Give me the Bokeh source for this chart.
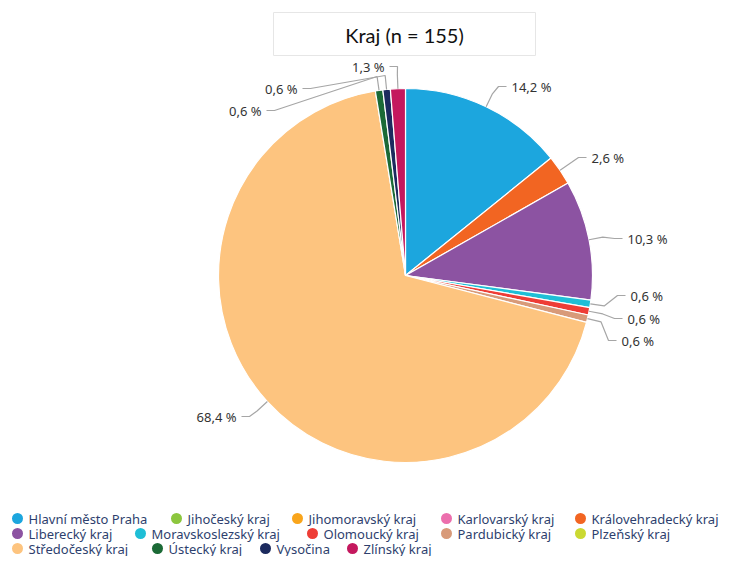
import math
from bokeh.plotting import figure
from bokeh.models import Range1d, ColumnDataSource
from bokeh.core.properties import value
from bokeh.embed import file_html
from bokeh.resources import INLINE

# ---- data ----
regions = ["Hlavní město Praha", "Jihočeský kraj", "Jihomoravský kraj", "Karlovarský kraj",
           "Královehradecký kraj", "Liberecký kraj", "Moravskoslezský kraj", "Olomoucký kraj",
           "Pardubický kraj", "Plzeňský kraj", "Středočeský kraj", "Ústecký kraj",
           "Vysočina", "Zlínský kraj"]
counts = [22, 0, 0, 0, 4, 16, 1, 1, 1, 0, 106, 1, 1, 2]
colors = ["#1ca6de", "#8cc63e", "#f9a51b", "#ec6fad", "#f26522", "#8c53a2", "#1fbed6",
          "#ee3d36", "#d89a79", "#cbd932", "#fdc47f", "#1b6a36", "#1c2a5e", "#c4185e"]
title_text = "Kraj (n = 155)"

# ---- layout (screen pixels) ----
W, H = 723, 556
def X(sx): return sx
def Y(sy): return H - sy

cx, cy, R = 405, 275, 187

p = figure(width=W, height=H, output_backend="svg", toolbar_location=None,
           x_range=Range1d(0, W), y_range=Range1d(0, H), min_border=0,
           x_axis_location=None, y_axis_location=None)
p.grid.visible = False
p.outline_line_color = None
p.background_fill_color = "white"

total = sum(counts)
starts, ends, cols, mids, pct = [], [], [], [], []
cum = 0
for c, col in zip(counts, colors):
    if c == 0:
        continue
    f0 = cum / total
    f1 = (cum + c) / total
    cum += c
    starts.append(math.pi / 2 - f1 * 2 * math.pi)
    ends.append(math.pi / 2 - f0 * 2 * math.pi)
    cols.append(col)
    mids.append((f0 + f1) / 2)
    pct.append(c / total * 100)

src = ColumnDataSource(dict(x=[X(cx)] * len(cols), y=[Y(cy)] * len(cols),
                            s=starts, e=ends, c=cols))
p.wedge(x="x", y="y", radius=R, start_angle="s", end_angle="e", direction="anticlock",
        fill_color="c", line_color="white", line_width=1.2, source=src)

# label anchors (screen px): (x, y, align)
anchors = [(511, 86, "left"), (591, 157, "left"), (627, 238, "left"),
           (630, 295, "left"), (627, 318, "left"), (621, 340, "left"),
           (236, 416, "right"), (261, 110, "right"), (297, 88, "right"), (384, 66, "right")]

lx, ly, lt, la = [], [], [], []
xs_lines, ys_lines = [], []
for m, pc, (ax, ay, al) in zip(mids, pct, anchors):
    ang = m * 2 * math.pi
    ex, ey = cx + R * math.sin(ang), cy - R * math.cos(ang)
    kx, ky = cx + (R + 14) * math.sin(ang), cy - (R + 14) * math.cos(ang)
    endx = ax - 5 if al == "left" else ax + 5
    midx = endx - 8 if al == "left" else endx + 8
    xs_lines.append([X(ex), X(kx), X(midx), X(endx)])
    ys_lines.append([Y(ey), Y(ky), Y(ay), Y(ay)])
    txt = ("%.1f" % pc).replace(".", ",") + " %"
    lx.append(X(ax)); ly.append(Y(ay)); lt.append(txt); la.append(al)

p.multi_line(xs=xs_lines, ys=ys_lines, line_color="#a6a6a6", line_width=1.2)
p.text(x=lx, y=ly, text=lt, text_align=la, text_baseline="middle",
       text_font=value("Noto Sans"), text_font_size="13px", text_color="#333333")

# title box
p.quad(left=X(273), right=X(535), top=Y(12), bottom=Y(55), fill_color="white",
       line_color="#e6e6e6", line_width=1)
p.text(x=[X(404)], y=[Y(34)], text=[title_text], text_align="center", text_baseline="middle",
       text_font=value("Lato"), text_font_size="20px", text_color="#111111")

# legend (flow layout positions, compressed to fit the frame)
leg_pos = [(17, 518), (176, 518), (297, 518), (446, 518), (580, 518),
           (17, 533), (140, 533), (312, 533), (446, 533), (580, 533),
           (17, 548), (157, 548), (265, 548), (352, 548)]
p.scatter(x=[X(a) for a, b in leg_pos], y=[Y(b) for a, b in leg_pos], size=11,
          marker="circle", fill_color=colors, line_color=None)
p.text(x=[X(a + 11) for a, b in leg_pos], y=[Y(b) for a, b in leg_pos], text=regions,
       text_align="left", text_baseline="middle", text_font=value("Noto Sans"),
       text_font_size="13px", text_color="#2e3f6e")

open("out.html", "w").write(file_html(p, INLINE))
